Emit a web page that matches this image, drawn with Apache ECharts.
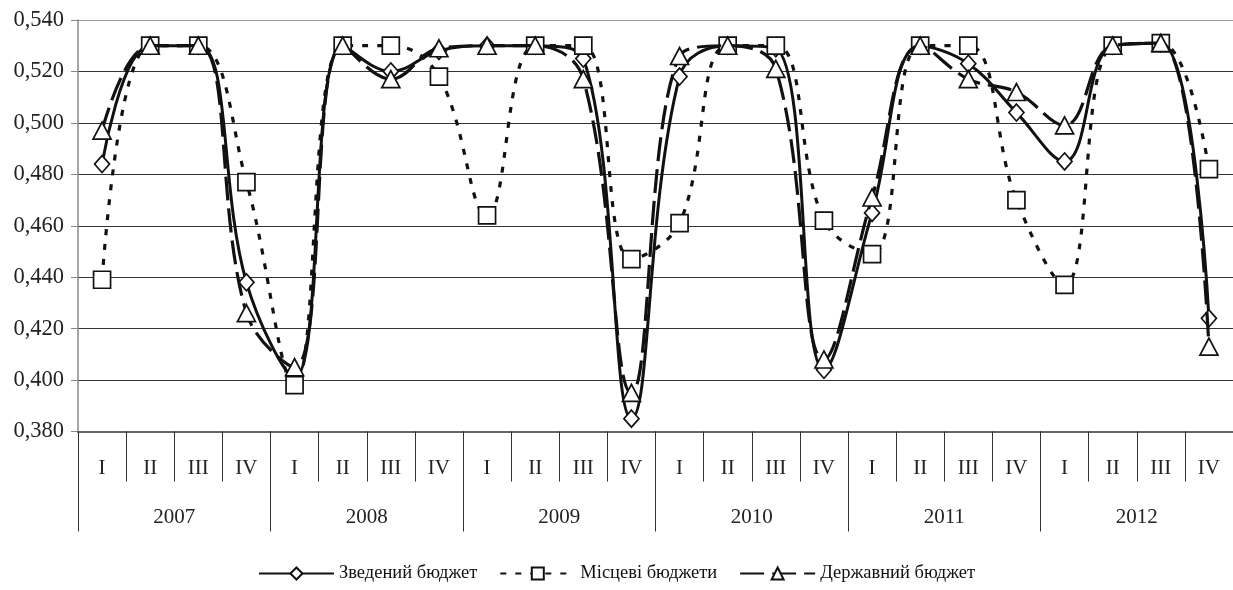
<!DOCTYPE html>
<html>
<head>
<meta charset="utf-8">
<script src="https://cdn.jsdelivr.net/npm/echarts@6/dist/echarts.min.js"></script>
<style>
html,body{margin:0;padding:0;background:#fff;}
#chart{width:1233px;height:590px;}
</style>
</head>
<body>
<div id="chart"></div>
<script>
var quarters = ['I','II','III','IV','I','II','III','IV','I','II','III','IV','I','II','III','IV','I','II','III','IV','I','II','III','IV'];
var years = ['2007','2008','2009','2010','2011','2012'];
var seriesNames = ['Зведений бюджет','Місцеві бюджети','Державний бюджет'];
var zvedenyi = [0.484,0.530,0.530,0.438,0.401,0.530,0.520,0.528,0.530,0.530,0.525,0.385,0.518,0.530,0.529,0.404,0.465,0.530,0.523,0.504,0.485,0.530,0.531,0.424];
var mistsevi = [0.439,0.530,0.530,0.477,0.398,0.530,0.530,0.518,0.464,0.530,0.530,0.447,0.461,0.530,0.530,0.462,0.449,0.530,0.530,0.470,0.437,0.530,0.531,0.482];
var derzhavnyi = [0.497,0.530,0.530,0.426,0.405,0.530,0.517,0.529,0.530,0.530,0.517,0.395,0.526,0.530,0.521,0.408,0.471,0.530,0.517,0.512,0.499,0.530,0.531,0.413];

var FONT = '"Liberation Serif","DejaVu Serif",serif';
var chart = echarts.init(document.getElementById('chart'));
var symStyle = {color:'#fff', borderColor:'#111', borderWidth:1.7};
chart.setOption({
  animation:false,
  backgroundColor:'#fff',
  textStyle:{fontFamily:FONT},
  grid:{left:78, top:20, width:1157, height:411.5, containLabel:false},
  legend:{
    bottom:2, left:'center', itemWidth:75, itemHeight:15, itemGap:22,
    textStyle:{fontFamily:FONT, fontSize:18.5, color:'#111'},
    data:seriesNames
  },
  xAxis:[
    {type:'category', data:quarters, position:'bottom',
     axisLine:{show:true, lineStyle:{color:'#666', width:2}},
     axisTick:{show:true, interval:0, length:50, lineStyle:{color:'#333', width:1}},
     axisLabel:{interval:0, margin:26, fontFamily:FONT, fontSize:21, color:'#222'},
     splitLine:{show:false}},
    {type:'category', data:years, position:'bottom',
     axisLine:{show:false},
     axisTick:{show:true, interval:0, length:100, lineStyle:{color:'#333', width:1}},
     axisLabel:{interval:0, margin:75, fontFamily:FONT, fontSize:21, color:'#222'},
     splitLine:{show:false}}
  ],
  yAxis:{type:'value', min:0.38, max:0.54, interval:0.02,
    axisLine:{show:true, lineStyle:{color:'#888', width:1.5}},
    axisTick:{show:true, length:7, lineStyle:{color:'#888'}},
    axisLabel:{margin:14, fontFamily:FONT, fontSize:22.5, color:'#222',
      formatter:function(v){return v.toFixed(3).replace('.',',');}},
    splitLine:{show:true, lineStyle:{color:['#666','#333','#333','#333','#333','#333','#333','#333','#999'], width:1.2}}
  },
  series:[
    {name:seriesNames[0], type:'line', data:zvedenyi, smooth:0.4,
     symbol:'diamond', symbolSize:[15,17], itemStyle:symStyle,
     lineStyle:{color:'#111', width:3, type:'solid'}, z:2},
    {name:seriesNames[1], type:'line', data:mistsevi, smooth:0.4,
     symbol:'rect', symbolSize:17, itemStyle:symStyle,
     lineStyle:{color:'#111', width:3.2, type:[6,9]}, z:3},
    {name:seriesNames[2], type:'line', data:derzhavnyi, smooth:0.4,
     symbol:'triangle', symbolSize:[18,17], itemStyle:symStyle,
     lineStyle:{color:'#111', width:3.2, type:[24,8]}, z:4}
  ]
});
</script>
</body>
</html>
